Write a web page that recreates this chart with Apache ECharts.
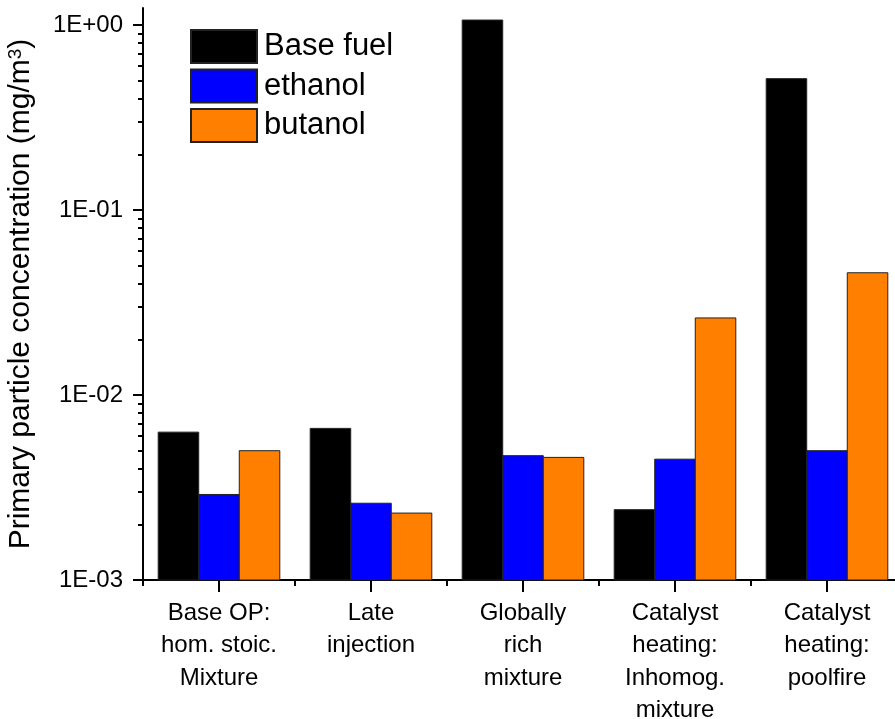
<!DOCTYPE html>
<html>
<head>
<meta charset="utf-8">
<script src="https://cdn.jsdelivr.net/npm/echarts@6/dist/echarts.min.js"></script>
<style>
html,body{margin:0;padding:0;background:#fff;}
#chart{width:895px;height:719px;}
</style>
</head>
<body>
<div id="chart"></div>
<script>
const categories = [
  'Base OP:\nhom. stoic.\nMixture',
  'Late\ninjection',
  'Globally\nrich\nmixture',
  'Catalyst\nheating:\nInhomog.\nmixture',
  'Catalyst\nheating:\npoolfire'
];
const seriesNames = ['Base fuel', 'ethanol', 'butanol'];
const baseFuel = [0.0063, 0.0066, 1.064, 0.0024, 0.513];
const ethanol  = [0.0029, 0.0026, 0.0047, 0.0045, 0.0050];
const butanol  = [0.0050, 0.0023, 0.0046, 0.0261, 0.0458];
const majorTicks = [0.001, 0.01, 0.1, 1];
const minorTicks = [
  0.002, 0.003, 0.004, 0.005, 0.006, 0.007, 0.008, 0.009,
  0.02, 0.03, 0.04, 0.05, 0.06, 0.07, 0.08, 0.09,
  0.2, 0.3, 0.4, 0.5, 0.6, 0.7, 0.8, 0.9
];
const yMin = 0.001;
const yMax = 1.236;

const FONT = 'Liberation Sans, Arial, sans-serif';

function sciLabel(v) {
  const e = Math.round(Math.log10(v));
  const s = e < 0 ? '-' : '+';
  const a = Math.abs(e);
  return '1E' + s + (a < 10 ? '0' + a : '' + a);
}

const chart = echarts.init(document.getElementById('chart'), null, {renderer: 'canvas'});
const colors = ['#000000', '#0000FF', '#FF8000'];
const dataSets = [baseFuel, ethanol, butanol];
const nSeries = dataSets.length;
const groupFrac = 0.8; // bars occupy 80% of each category band

function makeRender(i) {
  return function (params, api) {
    const cat = api.value(0);
    const val = api.value(1);
    const top = api.coord([cat, val]);
    const bottom = api.coord([cat, yMin]);
    const band = api.size([1, 0])[0];
    const bw = band * groupFrac / nSeries;
    const x0 = top[0] - band * groupFrac / 2 + i * bw;
    return {
      type: 'rect',
      shape: {x: x0, y: top[1], width: bw, height: bottom[1] - top[1]},
      style: api.style({fill: colors[i], stroke: '#222', lineWidth: 1})
    };
  };
}

const option = {
  animation: false,
  backgroundColor: '#ffffff',
  grid: {
    left: 143, top: 8, right: -8, bottom: 139,
    containLabel: false,
    outerBoundsMode: 'none'
  },
  legend: {
    orient: 'vertical',
    left: 190, top: 29,
    padding: 0,
    itemWidth: 66, itemHeight: 33, itemGap: 4.5,
    icon: 'rect',
    textStyle: {fontFamily: FONT, fontSize: 31, lineHeight: 33, color: '#000', padding: [0, 0, 0, 2]},
    data: seriesNames
  },
  xAxis: [
    {
      type: 'category',
      data: categories,
      position: 'bottom',
      boundaryGap: true,
      axisLine: {show: true, lineStyle: {color: '#000', width: 2}},
      axisTick: {show: true, alignWithLabel: true, length: 12, lineStyle: {color: '#000', width: 2}},
      axisLabel: {
        interval: 0, margin: 17, color: '#000',
        fontFamily: FONT, fontSize: 24, lineHeight: 32.5, align: 'center'
      },
      splitLine: {show: false}
    },
    {
      type: 'category',
      data: categories,
      position: 'bottom',
      boundaryGap: true,
      axisLine: {show: false},
      axisTick: {show: true, alignWithLabel: false, length: 6, lineStyle: {color: '#000', width: 2}},
      axisLabel: {show: false},
      splitLine: {show: false}
    }
  ],
  yAxis: [
    {
      type: 'log',
      logBase: 10,
      min: yMin, max: yMax,
      position: 'left',
      name: '{a|Primary particle concentration (mg/m}{s|3}{a|)}',
      nameLocation: 'middle',
      nameGap: 107,
      nameRotate: 90,
      nameTextStyle: {
        rich: {
          a: {fontFamily: FONT, fontSize: 30, color: '#000'},
          s: {fontFamily: FONT, fontSize: 19, color: '#000', verticalAlign: 'top', padding: [0, 0, 10, 0]}
        }
      },
      axisLine: {show: true, lineStyle: {color: '#000', width: 2}},
      axisTick: {show: true, inside: false, length: 10, customValues: majorTicks, lineStyle: {color: '#000', width: 2}},
      axisLabel: {
        customValues: majorTicks,
        margin: 20, color: '#000', fontFamily: FONT, fontSize: 24,
        formatter: function (v) { return sciLabel(v); }
      },
      splitLine: {show: false},
      minorTick: {show: false}
    },
    {
      type: 'log',
      logBase: 10,
      min: yMin, max: yMax,
      position: 'left',
      axisLine: {show: false},
      axisTick: {show: true, inside: false, length: 5, customValues: minorTicks, lineStyle: {color: '#000', width: 2}},
      axisLabel: {show: false},
      splitLine: {show: false}
    }
  ],
  series: seriesNames.map(function (name, i) {
    return {
      name: name,
      type: 'custom',
      xAxisIndex: 0,
      yAxisIndex: 0,
      renderItem: makeRender(i),
      encode: {x: 0, y: 1},
      data: dataSets[i].map(function (v, j) { return [j, v]; }),
      itemStyle: {color: colors[i], borderColor: '#222', borderWidth: 1}
    };
  })
};
chart.setOption(option);
</script>
</body>
</html>
